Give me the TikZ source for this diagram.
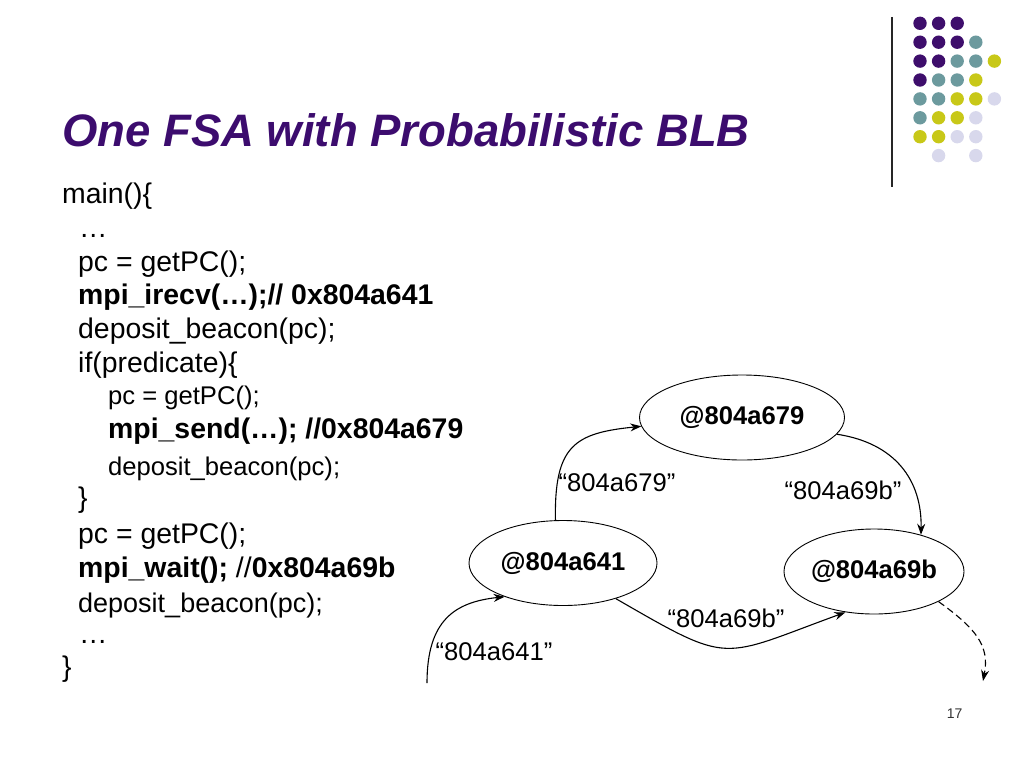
\documentclass[tikz,border=0pt]{standalone}
\usepackage{fontspec}
\setmainfont{Liberation Sans}
\usetikzlibrary{%
  arrows.meta%
  ,positioning%
  ,shapes.geometric%
}
\definecolor{titlepurple}{RGB}{60,12,110}
\definecolor{dotpurple}{RGB}{62,14,108}
\definecolor{dotteal}{RGB}{108,154,158}
\definecolor{dotyellow}{RGB}{200,200,24}
\definecolor{dotlilac}{RGB}{216,216,236}

\begin{document}
\begin{tikzpicture}[x=1pt,y=1pt,
    state/.style={draw,ellipse,line width=0.9pt,inner sep=0pt,
      font=\fontsize{25.6}{30}\selectfont\bfseries},
    edgelabel/.style={inner sep=0pt,font=\fontsize{25.6}{30}\selectfont},
    trans/.style={line width=1.1pt,-{Stealth[length=11pt,width=8pt]}},
    codeline/.style={anchor=base west,inner sep=0pt,font=\fontsize{28.4}{34}\selectfont},
    subline/.style={codeline,font=\fontsize{25.6}{30}\selectfont}]
      \useasboundingbox (0,0) rectangle (1024,-768);
      %% corner decoration
      \draw[line width=1.3pt,black!85] (892,-17) -- (892,-187);
      \foreach \c/\r/\k in {0/0/dotpurple,1/0/dotpurple,2/0/dotpurple,
          0/1/dotpurple,1/1/dotpurple,2/1/dotpurple,3/1/dotteal,
          0/2/dotpurple,1/2/dotpurple,2/2/dotteal,3/2/dotteal,4/2/dotyellow,
          0/3/dotpurple,1/3/dotteal,2/3/dotteal,3/3/dotyellow,
          0/4/dotteal,1/4/dotteal,2/4/dotyellow,3/4/dotyellow,4/4/dotlilac,
          0/5/dotteal,1/5/dotyellow,2/5/dotyellow,3/5/dotlilac,
          0/6/dotyellow,1/6/dotyellow,2/6/dotlilac,3/6/dotlilac,
          1/7/dotlilac,3/7/dotlilac}
        \fill[\k] (920+18.6*\c,-23.3-18.9*\r) circle (6.7);
      \node[anchor=base west,inner sep=0pt,text=titlepurple,
        font=\fontsize{45.5}{50}\selectfont\bfseries\itshape] (title) at (62,-146)
        {One FSA with Probabilistic BLB};
      %% code
      \node[codeline] (l1) at (62,-203) {main()\{};
      \node[codeline] (l2) at (79,-237) {…};
      \node[codeline] (l3) at (78,-271) {pc = getPC();};
      \node[codeline,font=\fontsize{28.4}{34}\selectfont\bfseries] (l4) at (78,-304) {mpi\_irecv(…);// 0x804a641};
      \node[codeline] (l5) at (78,-338) {deposit\_beacon(pc);};
      \node[codeline] (l6) at (78,-372) {if(predicate)\{};
      \node[subline] (l7) at (108,-404) {pc = getPC();};
      \node[codeline,font=\fontsize{28.4}{34}\selectfont\bfseries] (l8) at (108,-438) {mpi\_send(…); //0x804a679};
      \node[subline] (l9) at (108,-475) {deposit\_beacon(pc);};
      \node[codeline] (l10) at (78,-507) {\}};
      \node[codeline] (l11) at (78,-543) {pc = getPC();};
      \node[codeline] (l12) at (78,-577) {\textbf{mpi\_wait();} //\textbf{0x804a69b}};
      \node[codeline,font=\fontsize{27}{32}\selectfont] (l13) at (78,-612) {deposit\_beacon(pc);};
      \node[codeline] (l14) at (79,-643) {…};
      \node[codeline] (l15) at (62,-676) {\}};
      %% automaton
      \node[state,minimum width=188,minimum height=85] (s641) at (563,-563) {@804a641};
      \node[state,minimum width=205,minimum height=85] (s679) at (742,-417.5) {@804a679};
      \node[state,minimum width=180,minimum height=85] (s69b) at (874,-571.5) {@804a69b};
      \coordinate (entry) at (427,-683);
      \coordinate (exit) at (983,-681);
      \draw[trans] (entry) .. controls (427,-620) and (455,-602) .. (s641.210);
      \draw[trans] (s641.100) .. controls (554,-445) and (575,-433) .. (s679.185);
      \draw[trans] (s679.-10) .. controls (895,-443) and (922,-480) .. (s69b.38);
      \draw[trans] (s641.-34) to[out=-30,in=200,looseness=1.5] (s69b.235);
      \draw[trans,dash pattern=on 7pt off 4pt] (s69b.-25) .. controls (975,-628) and (990,-645) .. (exit);
      \node[edgelabel] (t641) at (494,-652) {“804a641”};
      \node[edgelabel] (t679) at (617,-483) {“804a679”};
      \node[edgelabel] (t69bup) at (843,-490) {“804a69b”};
      \node[edgelabel] (t69blow) at (726,-618) {“804a69b”};
      \node[font=\fontsize{14}{16}\selectfont,text=black!80] (pagenum) at (954.7,-714) {17};
    \end{tikzpicture}
\end{document}
